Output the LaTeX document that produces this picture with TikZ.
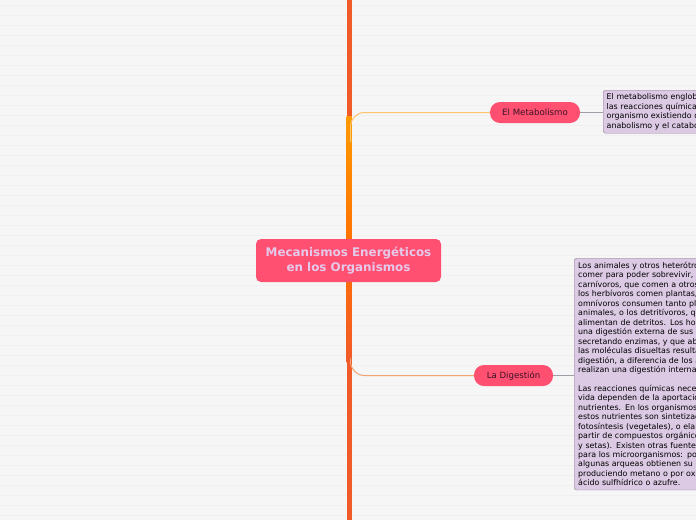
\documentclass[tikz,border=0pt]{standalone}
\usepackage{fontspec}
\setmainfont{DejaVu Sans}
\usetikzlibrary{positioning}
\definecolor{paper}{HTML}{F6F6F6}
\definecolor{stripe}{HTML}{F0F0F0}
\definecolor{trunkred}{HTML}{F15A29}
\definecolor{trunkorange}{HTML}{FF9A00}
\definecolor{topicpink}{HTML}{FF5072}
\definecolor{topictext}{HTML}{E6C9EA}
\definecolor{branchtext}{HTML}{3A1222}
\definecolor{notefill}{HTML}{DCCAE5}
\definecolor{noteline}{HTML}{8C8290}
\definecolor{metline}{HTML}{FFC46E}
\definecolor{digline}{HTML}{F2A474}
\tikzset{
  % central topic
  topic/.style={fill=topicpink, text=topictext, rounded corners=5pt,
    minimum width=185pt, minimum height=43pt, align=center,
    font=\fontsize{11.9}{15}\selectfont\bfseries, inner sep=0pt},
  % the two branch labels
  branch/.style={fill=topicpink, text=branchtext, rounded corners=10pt,
    minimum height=21pt, inner sep=0pt, font=\fontsize{8.6}{10}\selectfont},
  notebox/.style={fill=notefill, draw=noteline, rounded corners=2.5pt,
    anchor=north west, align=left, text width=220pt, inner sep=3.5pt,
    font=\fontsize{7.9}{9.45}\selectfont},
  twig/.style={line width=1pt, rounded corners=14pt},
  notelink/.style={draw=noteline!80, line width=0.8pt},
}
\begin{document}
\begin{tikzpicture}[x=1pt,y=-1pt]
  \useasboundingbox (0,0) rectangle (696,520);
  \fill[paper] (0,0) rectangle (696,520);
  \foreach \y in {5,15,...,515}
    \draw[stripe, line width=0.5pt] (0,\y) -- (696,\y);

  % trunk
  \coordinate (trunktop) at (349,0);
  \coordinate (trunkbot) at (349,520);
  \draw[trunkred, line width=5pt] (trunktop) -- (trunkbot);
  \shade[top color=trunkorange, bottom color=trunkred, middle color=orange!90!red]
    (346.5,116) rectangle (351.5,362);

  \node[topic] (main) at (348.5,260.5) {Mecanismos Energéticos\\en los Organismos};

  % branches
  \node[branch, minimum width=90pt] (met) at (535,112.5) {El Metabolismo};
  \node[branch, minimum width=79pt] (dig) at (513.5,375.5) {La Digestión};

  \coordinate (metroot) at (350.5,142);
  \coordinate (digroot) at (350.5,358);
  \draw[twig, metline] (metroot) |- (met.west);
  \draw[twig, digline] (digroot) |- (dig.west);

  % notes
  \node[notebox] (metnote) at (603,90) {El metabolismo engloba todas\\
    las reacciones químicas del\\
    organismo existiendo dos tipos:\\
    anabolismo y el catabolismo.};
  \node[notebox, inner sep=4pt] (dignote) at (574,258) {Los animales y otros heterótrofos deben\\
    comer para poder sobrevivir, ya sean\\
    carnívoros, que comen a otros animales,\\
    los herbívoros comen plantas, los\\
    omnívoros consumen tanto plantas como\\
    animales, o los detritívoros, que se\\
    alimentan de detritos. Los hongos realizan\\
    una digestión externa de sus alimentos,\\
    secretando enzimas, y que absorben luego\\
    las moléculas disueltas resultantes de la\\
    digestión, a diferencia de los animales que\\
    realizan una digestión interna.\\[9.45pt]
    Las reacciones químicas necesarias para la\\
    vida dependen de la aportación de\\
    nutrientes. En los organismos autótrofos\\
    estos nutrientes son sintetizados mediante\\
    fotosíntesis (vegetales), o elaborados a\\
    partir de compuestos orgánicos (hongos\\
    y setas). Existen otras fuentes de energía\\
    para los microorganismos: por ejemplo,\\
    algunas arqueas obtienen su energía\\
    produciendo metano o por oxidación de\\
    ácido sulfhídrico o azufre.};

  \draw[notelink] (met.east) -- (met.east -| metnote.west);
  \draw[notelink] (dig.east) -- (dig.east -| dignote.west);
\end{tikzpicture}
\end{document}
